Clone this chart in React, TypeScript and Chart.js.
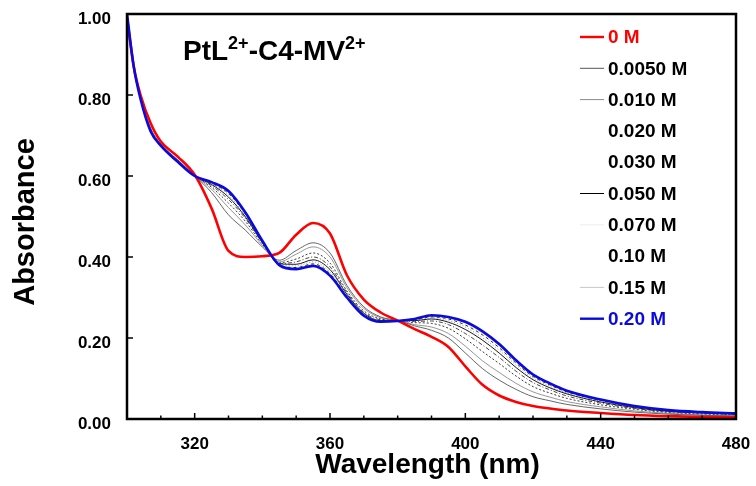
import React, { useEffect, useRef } from "react";
import { Chart, registerables } from "chart.js";
Chart.register(...registerables);

const WAVELENGTH = [300, 302, 304, 307, 310, 315, 320, 325, 330, 335, 340, 345, 350, 355, 360, 365, 370, 375, 380, 385, 390, 395, 400, 405, 410, 415, 420, 425, 430, 440, 450, 460, 470, 480];

const A_0 = [0.99, 0.87, 0.80, 0.73, 0.685, 0.648, 0.603, 0.52, 0.415, 0.40, 0.402, 0.41, 0.455, 0.484, 0.458, 0.355, 0.295, 0.263, 0.243, 0.222, 0.203, 0.178, 0.13, 0.085, 0.058, 0.042, 0.032, 0.026, 0.021, 0.015, 0.01, 0.007, 0.005, 0.004];
const A_0050 = [0.996, 0.87, 0.794, 0.718, 0.679, 0.640, 0.601, 0.559, 0.504, 0.466, 0.425, 0.392, 0.416, 0.435, 0.410, 0.330, 0.277, 0.252, 0.243, 0.230, 0.219, 0.200, 0.163, 0.125, 0.096, 0.073, 0.055, 0.045, 0.036, 0.025, 0.017, 0.012, 0.009, 0.007];
const A_010 = [0.997, 0.87, 0.793, 0.716, 0.678, 0.639, 0.601, 0.567, 0.522, 0.479, 0.429, 0.388, 0.407, 0.425, 0.400, 0.324, 0.273, 0.250, 0.243, 0.233, 0.227, 0.211, 0.180, 0.144, 0.115, 0.088, 0.067, 0.054, 0.043, 0.030, 0.020, 0.014, 0.010, 0.008];
const A_020 = [0.998, 0.87, 0.792, 0.714, 0.677, 0.638, 0.601, 0.572, 0.533, 0.488, 0.432, 0.386, 0.395, 0.410, 0.385, 0.316, 0.267, 0.247, 0.243, 0.238, 0.236, 0.224, 0.198, 0.167, 0.137, 0.106, 0.080, 0.064, 0.051, 0.035, 0.024, 0.016, 0.012, 0.010];
const A_030 = [0.999, 0.87, 0.791, 0.713, 0.676, 0.637, 0.600, 0.576, 0.542, 0.495, 0.435, 0.384, 0.388, 0.400, 0.376, 0.312, 0.263, 0.245, 0.243, 0.241, 0.242, 0.233, 0.211, 0.183, 0.152, 0.118, 0.090, 0.072, 0.057, 0.039, 0.026, 0.018, 0.014, 0.011];
const A_050 = [0.999, 0.87, 0.791, 0.712, 0.676, 0.636, 0.600, 0.579, 0.548, 0.499, 0.436, 0.383, 0.382, 0.393, 0.369, 0.308, 0.261, 0.243, 0.243, 0.243, 0.247, 0.239, 0.221, 0.195, 0.163, 0.127, 0.097, 0.077, 0.062, 0.042, 0.028, 0.019, 0.015, 0.012];
const A_070 = [1.0, 0.87, 0.791, 0.711, 0.676, 0.636, 0.600, 0.580, 0.553, 0.502, 0.437, 0.382, 0.378, 0.388, 0.363, 0.305, 0.259, 0.242, 0.243, 0.244, 0.250, 0.243, 0.227, 0.201, 0.170, 0.133, 0.101, 0.081, 0.064, 0.044, 0.029, 0.020, 0.016, 0.013];
const A_10 = [1.0, 0.87, 0.790, 0.711, 0.675, 0.636, 0.600, 0.582, 0.557, 0.506, 0.438, 0.381, 0.374, 0.383, 0.359, 0.303, 0.257, 0.241, 0.243, 0.245, 0.252, 0.247, 0.232, 0.208, 0.176, 0.138, 0.105, 0.084, 0.067, 0.046, 0.030, 0.021, 0.016, 0.013];
const A_15 = [1.0, 0.87, 0.790, 0.710, 0.675, 0.635, 0.600, 0.584, 0.560, 0.508, 0.439, 0.381, 0.372, 0.380, 0.356, 0.301, 0.256, 0.240, 0.243, 0.246, 0.254, 0.250, 0.237, 0.213, 0.181, 0.142, 0.108, 0.086, 0.069, 0.047, 0.031, 0.022, 0.017, 0.014];
const A_20 = [1.0, 0.87, 0.79, 0.71, 0.675, 0.635, 0.600, 0.585, 0.563, 0.51, 0.44, 0.38, 0.37, 0.378, 0.354, 0.30, 0.255, 0.24, 0.242, 0.247, 0.256, 0.252, 0.24, 0.217, 0.185, 0.145, 0.11, 0.088, 0.07, 0.048, 0.032, 0.022, 0.017, 0.014];

const SERIES_LABELS = ["0 M", "0.0050 M", "0.010 M", "0.020 M", "0.030 M", "0.050 M", "0.070 M", "0.10 M", "0.15 M", "0.20 M"];
const X_TICKS = [320, 360, 400, 440, 480];
const X_MINOR = [310, 320, 330, 340, 350, 360, 370, 380, 390, 400, 410, 420, 430, 440, 450, 460, 470];
const Y_TICKS = [0, 0.2, 0.4, 0.6, 0.8, 1.0];

const FONT = '"Liberation Sans", Arial, Helvetica, sans-serif';
const RED = "#ff0000";
const BLUE = "#0a0ae0";

type Style = { color: string; width: number; dash: number[]; legend: string | null; text: string };
const STYLES: Style[] = [
  { color: RED, width: 2.6, dash: [], legend: RED, text: RED },
  { color: "#555555", width: 0.9, dash: [], legend: "#555555", text: "#000" },
  { color: "#8a8a8a", width: 0.9, dash: [], legend: "#8a8a8a", text: "#000" },
  { color: "#222222", width: 0.9, dash: [2, 2], legend: null, text: "#000" },
  { color: "#333333", width: 0.9, dash: [4, 2, 1, 2], legend: null, text: "#000" },
  { color: "#000000", width: 0.9, dash: [], legend: "#000000", text: "#000" },
  { color: "#888888", width: 0.9, dash: [1, 2], legend: "#eeeeee", text: "#000" },
  { color: "#111111", width: 0.9, dash: [3, 3], legend: null, text: "#000" },
  { color: "#bbbbbb", width: 0.9, dash: [], legend: "#c8c8c8", text: "#000" },
  { color: BLUE, width: 2.6, dash: [], legend: BLUE, text: BLUE },
];

const decorPlugin = {
  id: "decor",
  afterDraw(chart: any) {
    const { ctx, chartArea } = chart;
    const xs = chart.scales.x;
    const ys = chart.scales.y;
    const { left, right, top, bottom } = chartArea;
    ctx.save();
    ctx.strokeStyle = "#000";
    ctx.lineWidth = 2.5;
    ctx.setLineDash([]);
    ctx.strokeRect(left, top, right - left, bottom - top);
    ctx.lineWidth = 1.5;
    X_MINOR.forEach((v) => {
      const px = xs.getPixelForValue(v);
      const len = X_TICKS.includes(v) ? 6 : 3.5;
      ctx.beginPath();
      ctx.moveTo(px, bottom);
      ctx.lineTo(px, bottom - len);
      ctx.stroke();
    });
    Y_TICKS.forEach((v) => {
      if (v <= 0 || v >= 1) return;
      const py = ys.getPixelForValue(v);
      ctx.beginPath();
      ctx.moveTo(left, py);
      ctx.lineTo(left + 6, py);
      ctx.stroke();
    });
    // tick labels
    ctx.fillStyle = "#000";
    ctx.font = `bold 17px ${FONT}`;
    ctx.textAlign = "center";
    ctx.textBaseline = "middle";
    X_TICKS.forEach((v) => {
      ctx.fillText(String(v), xs.getPixelForValue(v), bottom + 25);
    });
    ctx.textAlign = "right";
    Y_TICKS.forEach((v) => {
      ctx.fillText(v.toFixed(2), left - 16, ys.getPixelForValue(v) + 5);
    });
    // axis titles
    ctx.font = `bold 28px ${FONT}`;
    ctx.textAlign = "center";
    ctx.textBaseline = "alphabetic";
    ctx.fillText("Wavelength (nm)", (left + right) / 2 - 4, 473);
    ctx.save();
    ctx.font = `bold 29px ${FONT}`;
    ctx.translate(34, 222);
    ctx.rotate(-Math.PI / 2);
    ctx.fillText("Absorbance", 0, 0);
    ctx.restore();
    // inner title
    ctx.textAlign = "left";
    let x = 183;
    const base = 60;
    const parts: [string, boolean][] = [["PtL", false], ["2+", true], ["-C4-MV", false], ["2+", true]];
    parts.forEach(([t, sup]) => {
      ctx.font = sup ? `bold 18px ${FONT}` : `bold 28px ${FONT}`;
      ctx.fillText(t, x, sup ? base - 11 : base);
      x += ctx.measureText(t).width;
    });
    // legend
    ctx.font = `bold 19px ${FONT}`;
    ctx.textBaseline = "middle";
    SERIES_LABELS.forEach((lab, i) => {
      const st = STYLES[i];
      const y = 37 + i * 31.3;
      if (st.legend) {
        ctx.strokeStyle = st.legend;
        ctx.lineWidth = st.width > 2 ? 2.4 : 1;
        ctx.beginPath();
        ctx.moveTo(580, y);
        ctx.lineTo(604, y);
        ctx.stroke();
      }
      ctx.fillStyle = st.text;
      ctx.fillText(lab, 608, y + 1);
    });
    ctx.restore();
  },
};

export default function App() {
  const ref = useRef<HTMLCanvasElement>(null);
  useEffect(() => {
    const series = [A_0, A_0050, A_010, A_020, A_030, A_050, A_070, A_10, A_15, A_20];
    const orders = [1, 2, 3, 4, 5, 6, 7, 8, 9, 0];
    const chart = new Chart(ref.current as HTMLCanvasElement, {
      type: "line",
      data: {
        datasets: series.map((s, i) => ({
          label: SERIES_LABELS[i],
          data: WAVELENGTH.map((w, j) => ({ x: w, y: s[j] })),
          borderColor: STYLES[i].color,
          borderWidth: STYLES[i].width,
          borderDash: STYLES[i].dash,
          pointRadius: 0,
          fill: false,
          cubicInterpolationMode: "monotone" as const,
          order: orders[i],
        })),
      },
      options: {
        animation: false,
        responsive: true,
        maintainAspectRatio: false,
        layout: { padding: { top: 14, right: 20, left: 0, bottom: 0 } },
        plugins: { legend: { display: false }, tooltip: { enabled: false }, title: { display: false } },
        scales: {
          x: {
            type: "linear",
            min: 300,
            max: 480,
            afterBuildTicks: (s: any) => {
              s.ticks = X_TICKS.map((v) => ({ value: v }));
            },
            afterFit: (s: any) => {
              s.height = 67;
            },
            grid: { display: false, drawTicks: false },
            border: { display: false },
            ticks: { display: false },
          },
          y: {
            type: "linear",
            min: 0,
            max: 1,
            afterBuildTicks: (s: any) => {
              s.ticks = Y_TICKS.map((v) => ({ value: v }));
            },
            afterFit: (s: any) => {
              s.width = 127;
            },
            grid: { display: false, drawTicks: false },
            border: { display: false },
            ticks: { display: false },
          },
        },
      },
      plugins: [decorPlugin],
    });
    return () => chart.destroy();
  }, []);
  return (
    <div style={{ position: "fixed", left: 0, top: 0, width: 756, height: 486, background: "#fff" }}>
      <canvas ref={ref} />
    </div>
  );
}
